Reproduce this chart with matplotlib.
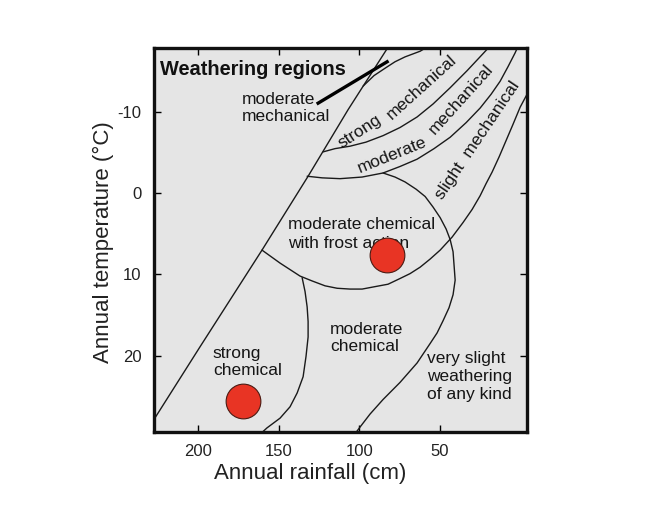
import matplotlib
matplotlib.use('Agg')
import matplotlib.pyplot as plt

plt.rcParams['font.family'] = ['Liberation Sans', 'DejaVu Sans']
plt.rcParams['axes.unicode_minus'] = False

# region boundaries: rainfall (cm), temperature (C)
diag_rain = [232.3, 198.8, 160.4, 131.8, 107.0, 80.9]
diag_temp = [29.4, 18.9, 7.0, -2.1, -10.3, -18.4]

strong_top_rain = [97.7, 90.9, 84.1, 77.9, 71.7, 62.3, 54.9]
strong_top_temp = [-13.2, -14.5, -15.4, -16.2, -16.8, -17.5, -18.4]

strong_low_rain = [122.5, 115.1, 105.8, 95.9, 85.3, 74.8, 64.2, 54.3, 43.7, 33.2, 23.3, 17.7]
strong_low_temp = [-5.1, -5.5, -5.8, -6.3, -7.1, -8.1, -9.4, -11.0, -13.0, -15.1, -17.2, -18.4]

moder_low_rain = [132.4, 123.1, 112.0, 98.3, 85.3, 74.8, 64.2, 53.7, 43.7, 33.8,
                  25.1, 18.3, 12.7, 7.8, 3.4, 0.9]
moder_low_temp = [-2.1, -1.9, -1.8, -2.0, -2.5, -3.3, -4.2, -5.5, -6.9, -8.7,
                  -10.5, -12.2, -13.8, -15.6, -17.3, -18.4]

arc_rain = [85.3, 77.9, 71.7, 64.8, 59.2, 54.3, 49.9, 46.2, 43.7, 41.9, 41.3, 40.6,
            41.9, 44.4, 48.1, 51.8, 56.1, 64.2, 74.8, 85.3, 93.4, 99.6, 104.5]
arc_temp = [-2.5, -2.0, -1.4, -0.5, 0.4, 1.7, 3.0, 4.4, 5.7, 7.2, 8.8, 10.7,
            12.5, 14.1, 15.7, 17.2, 18.5, 20.9, 23.3, 25.4, 27.2, 28.8, 30.1]

frost_low_rain = [160.4, 154.8, 149.2, 143.0, 136.8, 129.3, 121.3, 113.8, 105.8, 98.3,
                  90.3, 82.2, 74.8, 68.6, 62.3, 56.1, 49.9, 42.5, 35.7, 30.1,
                  25.1, 21.4, 17.7, 13.3, 9.0, 4.7, 0.3, -4.0, -7.8]
frost_low_temp = [7.0, 7.8, 8.6, 9.4, 10.2, 10.8, 11.4, 11.7, 11.8, 11.8,
                  11.5, 11.2, 10.5, 9.9, 9.1, 8.1, 7.0, 5.4, 3.6, 2.0,
                  0.3, -1.2, -2.6, -4.5, -6.5, -8.5, -10.6, -12.2, -13.7]

chem_rain = [135.5, 133.7, 132.4, 131.8, 131.8, 133.1, 134.9, 138.6, 143.0, 149.2, 157.3, 162.8]
chem_temp = [10.4, 12.1, 14.0, 15.8, 17.7, 20.1, 22.6, 24.6, 26.3, 27.7, 28.9, 29.9]

pointer_rain = [125.6, 82.8]
pointer_temp = [-11.1, -16.2]

# sample sites
site_rain = [82.8, 172.1]
site_temp = [7.6, 25.6]

xticks = [200, 150, 100, 50]
yticks = [-10, 0, 10, 20]

fig = plt.figure(figsize=(6.58, 5.30), dpi=100)
ax = fig.add_axes([0.234, 0.185, 0.567, 0.7245])
ax.set_facecolor('#e5e5e5')

line_kw = dict(color='#1a1a1a', lw=1.0, solid_capstyle='round', solid_joinstyle='round')
for xs, ys in [(diag_rain, diag_temp), (strong_top_rain, strong_top_temp),
               (strong_low_rain, strong_low_temp), (moder_low_rain, moder_low_temp),
               (arc_rain, arc_temp), (frost_low_rain, frost_low_temp),
               (chem_rain, chem_temp)]:
    ax.plot(xs, ys, **line_kw)
ax.plot(pointer_rain, pointer_temp, color='black', lw=2.4)

ax.set_xlim(227.4, -4.0)
ax.set_ylim(29.4, -17.9)

txt = dict(fontsize=12.5, color='#151515')
ax.text(223.6, -14.6, 'Weathering regions', fontsize=14.4, fontweight='bold',
        color='#111111', va='baseline', ha='left')
ax.text(172.8, -10.5, 'moderate\nmechanical', ha='left', va='center', linespacing=1.1, **txt)
ax.text(99.6, -7.6, 'strong', rotation=33, ha='center', va='center', rotation_mode='anchor', **txt)
ax.text(61.7, -13.1, 'mechanical', rotation=42, ha='center', va='center', rotation_mode='anchor', **txt)
ax.text(79.7, -4.7, 'moderate', rotation=22, ha='center', va='center', rotation_mode='anchor', **txt)
ax.text(36.9, -11.6, 'mechanical', rotation=48, ha='center', va='center', rotation_mode='anchor', **txt)
ax.text(27.0, -6.5, 'slight  mechanical', rotation=56, ha='center', va='center', rotation_mode='anchor', **txt)
ax.text(144.2, 5.0, 'moderate chemical\nwith frost action', ha='left', va='center', linespacing=1.3, **txt)
ax.text(190.8, 20.8, 'strong\nchemical', ha='left', va='center', linespacing=1.12, **txt)
ax.text(118.2, 17.8, 'moderate\nchemical', ha='left', va='center', linespacing=1.12, **txt)
ax.text(58.0, 22.6, 'very slight\nweathering\nof any kind', ha='left', va='center', linespacing=1.25, **txt)

ax.plot(site_rain, site_temp, 'o', ms=25, mfc='#e83424', mec='#4a1a12', mew=0.8,
        ls='none', zorder=5)

ax.set_xticks(xticks)
ax.set_yticks(yticks)
ax.tick_params(direction='in', length=5, width=1, top=True, right=True,
               labelsize=12, labelcolor='#222222', pad=9)
for s in ax.spines.values():
    s.set_linewidth(2.4)
    s.set_color('#111111')

ax.set_xlabel('Annual rainfall (cm)', fontsize=16, color='#222222')
ax.set_ylabel('Annual temperature (°C)', fontsize=16, color='#222222')
ax.xaxis.set_label_coords(0.418, -0.08)
ax.yaxis.set_label_coords(-0.106, 0.495)

fig.savefig('out.png', dpi=100)
